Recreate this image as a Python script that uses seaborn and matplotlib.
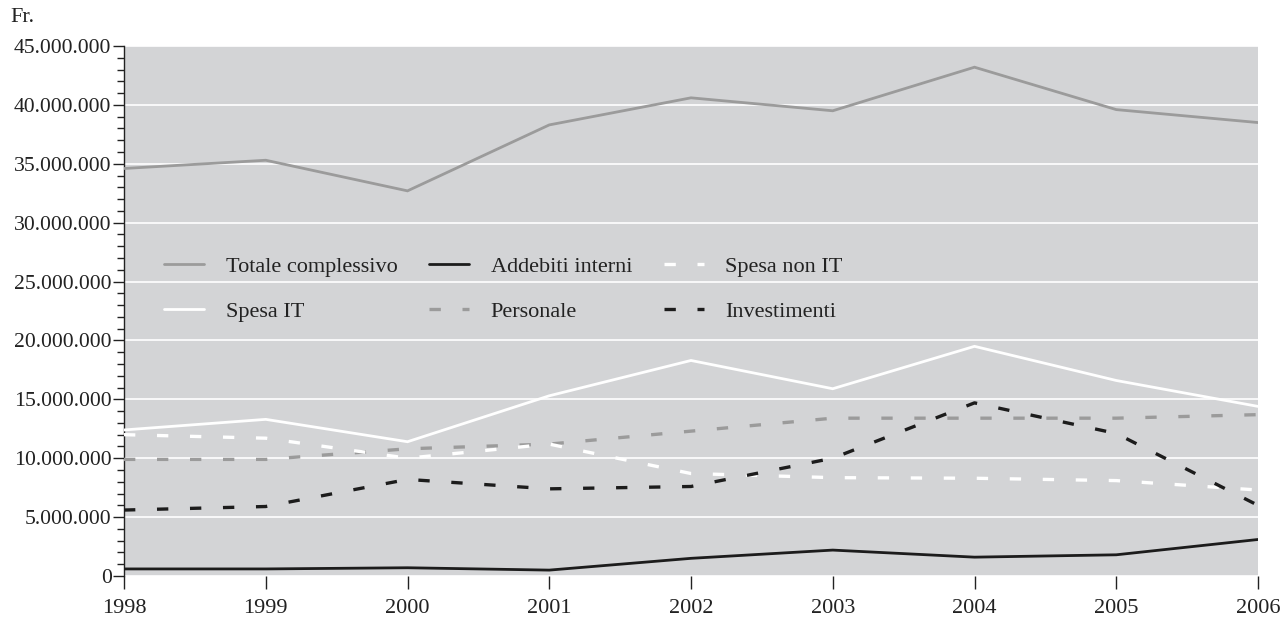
import matplotlib
matplotlib.use("Agg")
import matplotlib.pyplot as plt
import matplotlib.ticker as mticker
import seaborn as sns
import pandas as pd

years = [1998, 1999, 2000, 2001, 2002, 2003, 2004, 2005, 2006]
totale = [34.6e6, 35.3e6, 32.7e6, 38.3e6, 40.6e6, 39.5e6, 43.2e6, 39.6e6, 38.5e6]
spesa_it = [12.4e6, 13.3e6, 11.4e6, 15.3e6, 18.3e6, 15.9e6, 19.5e6, 16.6e6, 14.4e6]
addebiti = [0.6e6, 0.6e6, 0.7e6, 0.5e6, 1.5e6, 2.2e6, 1.6e6, 1.8e6, 3.1e6]
personale = [9.9e6, 9.9e6, 10.8e6, 11.2e6, 12.3e6, 13.4e6, 13.4e6, 13.4e6, 13.7e6]
spesa_non_it = [12.0e6, 11.7e6, 10.0e6, 11.2e6, 8.7e6, 8.35e6, 8.3e6, 8.1e6, 7.3e6]
investimenti = [5.6e6, 5.9e6, 8.2e6, 7.4e6, 7.6e6, 10.0e6, 14.7e6, 12.1e6, 6.0e6]

labels = ["Totale complessivo", "Spesa IT", "Addebiti interni",
          "Personale", "Spesa non IT", "Investimenti"]

sns.set_theme(style="white")
plt.rcParams['font.family'] = ['Liberation Serif', 'DejaVu Serif']

fig = plt.figure(figsize=(12.82, 6.17), dpi=100)
ax = fig.add_axes([124/1282, 1-576/617, (1258-124)/1282, (576-46)/617])
ax.set_facecolor("#d3d4d6")

gray = "#9b9b9b"
black = "#1c1c1c"
white = "#ffffff"
series = [
    (totale, gray, None, 2.0),
    (spesa_it, white, None, 2.0),
    (addebiti, black, None, 2.0),
    (personale, gray, (3.4, 6.5), 2.4),
    (spesa_non_it, white, (3.4, 6.5), 2.4),
    (investimenti, black, (3.4, 6.5), 2.4),
]

for lab, (vals, col, dash, lw) in zip(labels, series):
    df = pd.DataFrame({"year": years, "value": vals})
    sns.lineplot(data=df, x="year", y="value", ax=ax, color=col, lw=lw,
                 label=lab, zorder=3)
    line = ax.lines[-1]
    if dash is not None:
        line.set_dashes(dash)
    line.set_solid_joinstyle("miter")

ax.set_xlim(1998, 2006)
ax.set_ylim(0, 45e6)
ax.set_xticks(years)
ax.set_xticklabels([str(y) for y in years])
ax.yaxis.set_major_locator(mticker.MultipleLocator(5e6))
ax.yaxis.set_minor_locator(mticker.MultipleLocator(1e6))
ax.yaxis.set_major_formatter(mticker.FuncFormatter(
    lambda v, p: "0" if v == 0 else f"{int(round(v)):,}".replace(",", ".")))
ax.grid(axis="y", which="major", color="white", lw=1.2, zorder=1)
ax.set_axisbelow(True)
ax.set_xlabel("")
ax.set_ylabel("")

for s in ["top", "right"]:
    ax.spines[s].set_visible(False)
ax.spines["bottom"].set_visible(False)
ax.spines["left"].set_color("#222222")
ax.spines["left"].set_linewidth(1.0)

ax.tick_params(axis="y", which="major", direction="out", length=8, width=1,
               color="#222222", labelsize=15.6, pad=1, left=True)
ax.tick_params(axis="y", which="minor", direction="out", length=5, width=1,
               color="#222222", left=True)
ax.tick_params(axis="x", which="major", direction="out", length=9, width=1,
               color="#222222", labelsize=16, pad=7.5, bottom=True)
for t in ax.get_yticklabels() + ax.get_xticklabels():
    t.set_color("#222222")

leg = ax.legend(ncol=3, loc="upper left", bbox_to_anchor=(0.018, 0.641),
                frameon=False, fontsize=16, handlelength=1.8,
                columnspacing=1.45, labelspacing=1.1, handletextpad=0.95)
for t in leg.get_texts():
    t.set_color("#222222")

fig.text(10/1282, 1-18/617, "Fr.", fontsize=16, color="#222222",
         va="center", ha="left")

fig.savefig("out.png", dpi=100)
